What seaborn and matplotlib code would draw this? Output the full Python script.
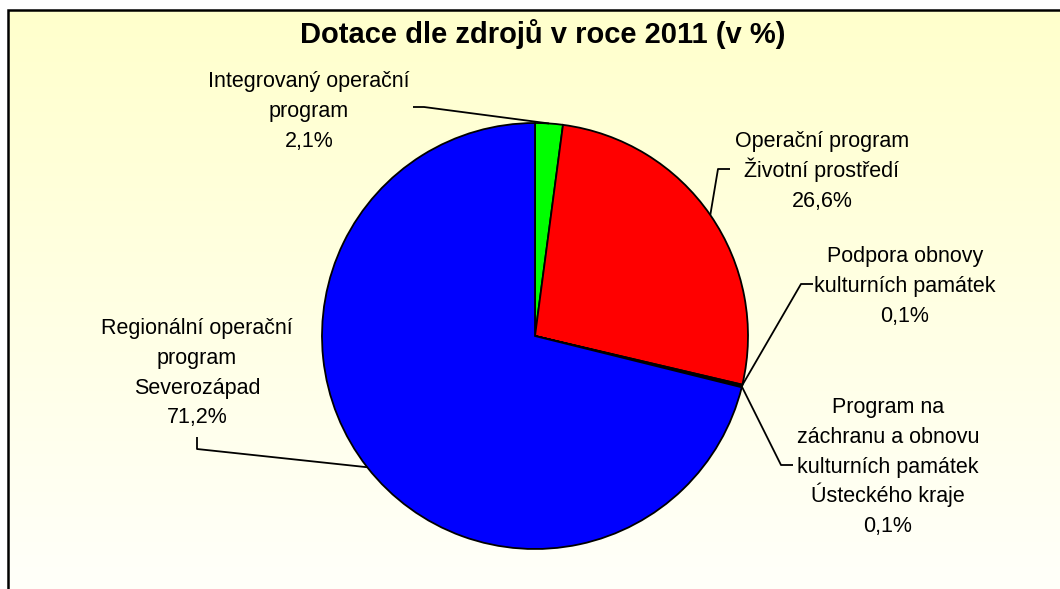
import numpy as np
import matplotlib
matplotlib.use("Agg")
import matplotlib.pyplot as plt
from matplotlib.colors import LinearSegmentedColormap
from matplotlib.patches import Rectangle
import seaborn as sns

# data
sources = [["Integrovaný operační", "program"],
           ["Operační program", "Životní prostředí"],
           ["Podpora obnovy", "kulturních památek"],
           ["Program na", "záchranu a obnovu", "kulturních památek", "Ústeckého kraje"],
           ["Regionální operační", "program", "Severozápad"]]
shares = [2.1, 26.6, 0.1, 0.1, 71.2]
share_labels = ["2,1%", "26,6%", "0,1%", "0,1%", "71,2%"]
colors = ["#00FF00", "#FF0000", "#FFFF99", "#FF99CC", "#0000FF"]

sns.set_style("white")
plt.rcParams["font.family"] = ["Liberation Sans", "DejaVu Sans"]
plt.rcParams["text.color"] = "black"

W, H = 1060, 589
fig = plt.figure(figsize=(W / 100, H / 100), dpi=100)
ax = fig.add_axes([0, 0, 1, 1])

# background gradient inside the chart frame
cmap = LinearSegmentedColormap.from_list("bg", ["#FFFFCC", "#FFFFFA"])
grad = np.linspace(0, 1, 256).reshape(-1, 1)
ax.imshow(grad, cmap=cmap, aspect="auto", extent=(8, W + 5, -5, H - 10),
          origin="upper", zorder=0)
ax.add_patch(Rectangle((8, -5), W, H - 10 + 5, fill=False, ec="black", lw=1.8, zorder=1))

# pie (pixel-based coords, y measured upwards)
cx, cy, r = 535, H - 336, 213
wedges, _ = ax.pie(shares, colors=sns.color_palette(colors), startangle=90,
                   counterclock=False, center=(cx, cy), radius=r,
                   wedgeprops=dict(edgecolor="black", linewidth=1.3),
                   frame=True)
for w in wedges:
    w.set_zorder(2)

ax.set_xlim(0, W)
ax.set_ylim(0, H)
ax.set_aspect("equal", adjustable="box")
ax.axis("off")

# label centre x and first baseline (pixels, y from top), leader elbows
text_pos = [(309, 87), (822, 147), (905, 262), (888, 413), (197, 334)]
line_step = 29.8
elbows = [[(413, 107), (424, 107)],
          [(730, 169), (718, 169)],
          [(813, 284), (801, 284)],
          [(793, 465), (781, 465)],
          [(197, 437), (197, 449)]]

for w, name, pct, (tx, ty), el in zip(wedges, sources, share_labels, text_pos, elbows):
    ang = np.deg2rad((w.theta1 + w.theta2) / 2)
    ex, ey = cx + r * np.cos(ang), cy + r * np.sin(ang)
    xs = [p[0] for p in el] + [ex]
    ys = [H - p[1] for p in el] + [ey]
    ax.plot(xs, ys, color="black", lw=1.3, zorder=3, solid_capstyle="butt")
    for i, line in enumerate(name + [pct]):
        ax.text(tx, H - (ty + i * line_step), line, ha="center", va="baseline",
                color="black", fontsize=15.5, zorder=4)

ax.text(543, H - 43, "Dotace dle zdrojů v roce 2011 (v %)", ha="center", va="baseline",
        fontsize=21, fontweight="bold", color="black", zorder=4)

fig.savefig("out.png", dpi=100, facecolor="white")
